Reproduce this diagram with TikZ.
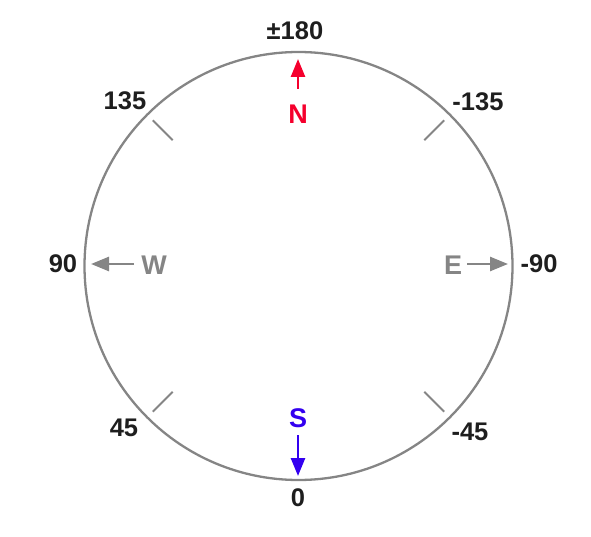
\documentclass[tikz,border=0pt]{standalone}
\usepackage{fontspec}
\setmainfont{Liberation Sans}
\usepackage{xcolor}
\usetikzlibrary{arrows.meta}
\usetikzlibrary{calc}

\definecolor{dialgray}{HTML}{858585}
\definecolor{labeldark}{HTML}{1E1E1E}
\definecolor{northred}{HTML}{F5002D}
\definecolor{southblue}{HTML}{3300F0}

\begin{document}
\begin{tikzpicture}[x=1pt,y=-1pt,
	angle/.style={text=labeldark,font=\bfseries\fontsize{25.5}{25.5}\selectfont},
	pole/.style={font=\bfseries\fontsize{27}{27}\selectfont},
	pointer/.style={line width=2.6pt,-{Triangle[length=18pt,width=14pt]}},
	tick/.style={dialgray,line width=2pt}]
	
	\useasboundingbox (0,0) rectangle (591,537);
	
	% Dial
	\coordinate (c) at (298.5,266);
	\draw[dialgray,line width=2.3pt] (c) circle[radius=214];
	
	% Diagonal ticks
	\foreach \a in {45,135,225,315}
	\draw[tick] ($(c)+(\a:206)$) -- ($(c)+(\a:178)$);
	
	% Angle labels
	\node[angle] (n180) at (295,31) {±180};
	\node[angle] (n135) at (125,101) {135};
	\node[angle] (nm135) at (478,102) {-135};
	\node[angle] (n90) at (63,264) {90};
	\node[angle] (nm90) at (539,264) {-90};
	\node[angle] (n45) at (124,428) {45};
	\node[angle] (nm45) at (470,432) {-45};
	\node[angle] (n0) at (298,498) {0};
	
	% North (red, pointing up)
	\node[pole,northred] (N) at (298,114) {N};
	\coordinate (Nbase) at (298,89);
	\coordinate (Ntip) at (298,59);
	\draw[pointer,northred] (Nbase) -- (Ntip);
	
	% South (blue, pointing down)
	\node[pole,southblue] (S) at (298,418) {S};
	\coordinate (Sbase) at (298,435);
	\coordinate (Stip) at (298,476);
	\draw[pointer,southblue] (Sbase) -- (Stip);
	
	% West and East (gray, pointing out)
	\node[pole,dialgray] (W) at (154,265) {W};
	\coordinate (Wbase) at (134,264);
	\coordinate (Wtip) at (91,264);
	\draw[pointer,dialgray] (Wbase) -- (Wtip);
	
	\node[pole,dialgray] (E) at (453,265) {E};
	\coordinate (Ebase) at (467,264);
	\coordinate (Etip) at (508,264);
	\draw[pointer,dialgray] (Ebase) -- (Etip);
	
\end{tikzpicture}
\end{document}
